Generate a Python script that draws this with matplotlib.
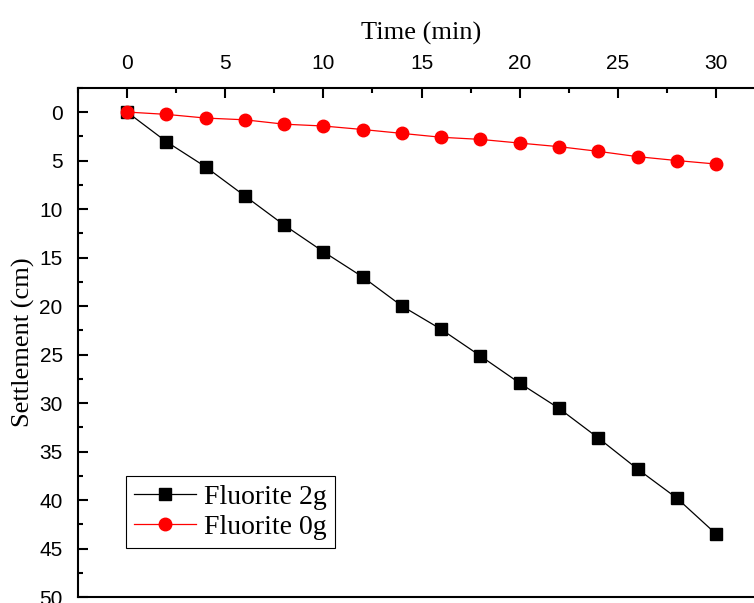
import numpy as np
import matplotlib
matplotlib.use('Agg')
import matplotlib.pyplot as plt
from matplotlib.ticker import MultipleLocator

# settlement vs time
time_min = [0, 2, 4, 6, 8, 10, 12, 14, 16, 18, 20, 22, 24, 26, 28, 30]
fluorite_2g = [0, 3.05, 5.65, 8.65, 11.65, 14.4, 17.0, 20.0, 22.4, 25.15,
               27.95, 30.55, 33.6, 36.8, 39.8, 43.5]
fluorite_0g = [0, 0.24, 0.62, 0.8, 1.25, 1.44, 1.8, 2.2, 2.6, 2.82,
               3.2, 3.57, 4.05, 4.6, 5.0, 5.36]

serif = 'Liberation Serif'
sans = 'Liberation Sans'

fig = plt.figure(figsize=(7.54, 6.03), dpi=100)
# right side of the frame runs off the picture, as in the original
ax = fig.add_axes([0.1034, 0.0099, 0.9114, 0.8445])

ax.plot(time_min, fluorite_2g, color='black', lw=0.9, marker='s', ms=8.5,
        label='Fluorite 2g')
ax.plot(time_min, fluorite_0g, color='#ff0000', lw=0.9, marker='o', ms=9,
        label='Fluorite 0g')

ax.set_xlim(-2.5, 32.5)
ax.set_ylim(50, -2.5)

ax.xaxis.tick_top()
ax.xaxis.set_label_position('top')
ax.xaxis.set_major_locator(MultipleLocator(5))
ax.xaxis.set_minor_locator(MultipleLocator(2.5))
ax.yaxis.set_major_locator(MultipleLocator(5))
ax.yaxis.set_minor_locator(MultipleLocator(2.5))

ax.tick_params(which='both', direction='in', top=True, bottom=False,
               left=True, right=False, width=1.5)
ax.tick_params(which='major', length=7, labelsize=15, pad=11)
ax.tick_params(which='minor', length=3.5)
for lab in ax.get_xticklabels() + ax.get_yticklabels():
    lab.set_family(sans)

for sp in ax.spines.values():
    sp.set_linewidth(1.5)

ax.set_xlabel('Time (min)', family=serif, fontsize=19, labelpad=10)
ax.set_ylabel('Settlement (cm)', family=serif, fontsize=19, labelpad=3)

leg = ax.legend(loc='lower left', bbox_to_anchor=(0.07, 0.096), borderaxespad=0,
                prop={'family': serif, 'size': 20}, fancybox=False,
                edgecolor='black', framealpha=1, handlelength=2.2,
                handletextpad=0.3, borderpad=0.3, labelspacing=0.15)
leg.get_frame().set_linewidth(0.8)

fig.savefig('out.png', dpi=100)
